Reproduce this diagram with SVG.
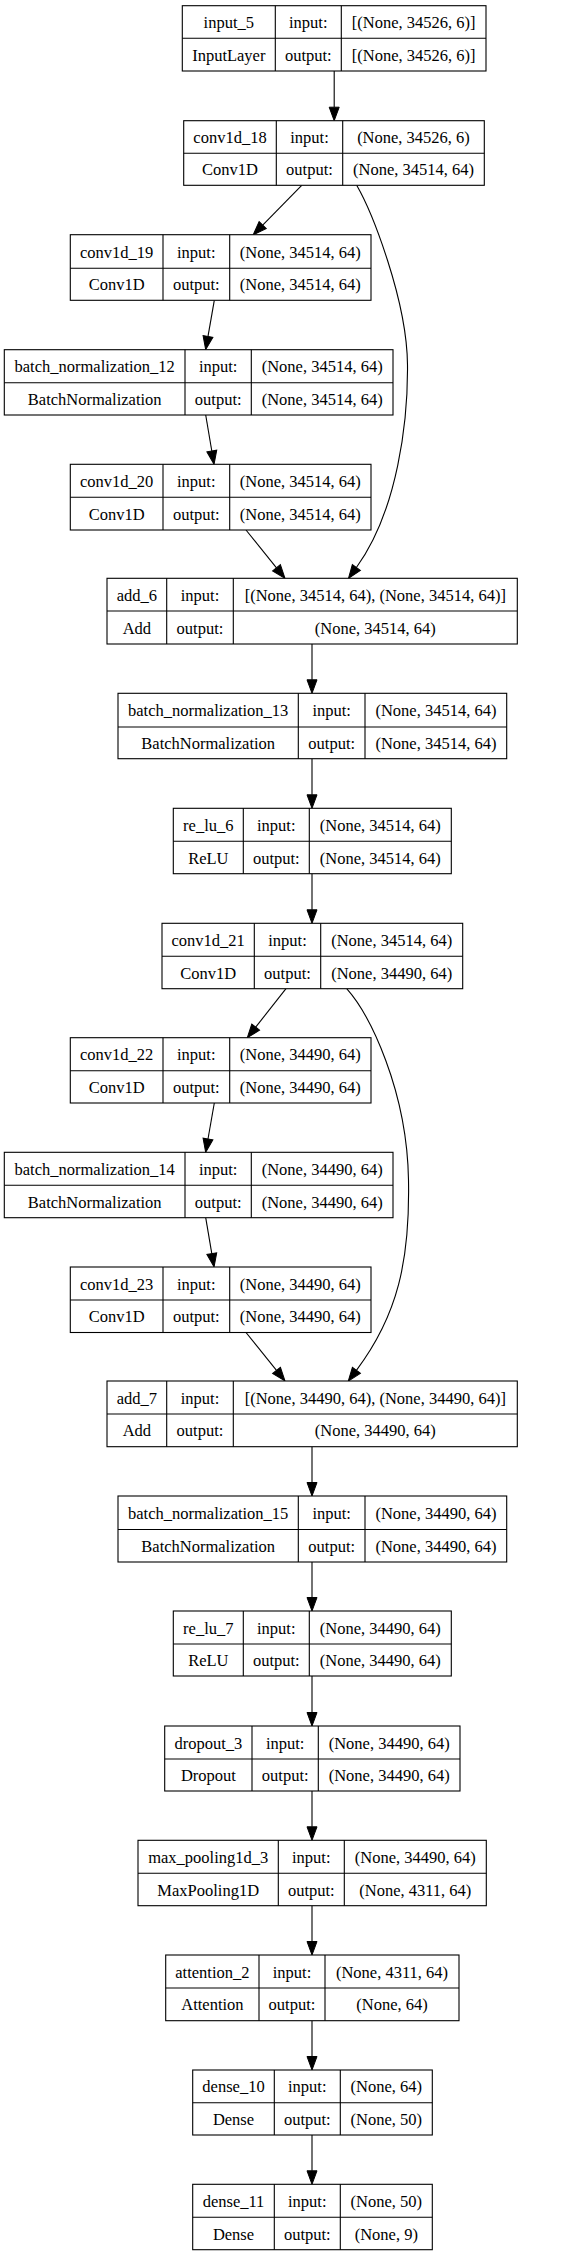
<svg xmlns="http://www.w3.org/2000/svg" width="572" height="2256" viewBox="0 0 572 2256">
<style>
  .box { fill: #fff; stroke: #000; stroke-width: 1.1; }
  .ln { stroke: #000; stroke-width: 1.1; fill: none; }
  text { font-family: "Liberation Serif", "Times New Roman", serif; font-size: 16.5px; text-anchor: middle; fill: #000; }
  .edge { stroke: #000; stroke-width: 1.1; fill: none; marker-end: url(#arr); }
</style>
<defs>
  <marker id="arr" markerUnits="userSpaceOnUse" markerWidth="14" markerHeight="10" refX="0" refY="5" orient="auto" overflow="visible">
    <path d="M0,0 L13.5,5 L0,10 z" fill="#000" stroke="#000" stroke-width="1"/>
  </marker>
</defs>
<rect width="572" height="2256" fill="#fff"/>

<g id="connectors">
  <path class="edge" d="M334.2,71 L334.2,107.2"/>
  <path class="edge" d="M301.7,185.3 L262.7,225.1"/>
  <path class="edge" d="M214.3,300.3 L208.0,336.4"/>
  <path class="edge" d="M205.7,415 L211.8,451.0"/>
  <path class="edge" d="M246,530 L276.5,567.8"/>
  <path class="edge" d="M356.7,185.3 C372,212 407,300 407.5,365 C408,420 398,510 356.4,567.5"/>
  <path class="edge" d="M312,644 L312,679.8"/>
  <path class="edge" d="M312,758.7 L312,794.8"/>
  <path class="edge" d="M312,873.7 L312,909.8"/>
  <path class="edge" d="M286,988.7 L255.7,1027.1"/>
  <path class="edge" d="M214.3,1103 L208.0,1139.0"/>
  <path class="edge" d="M205.7,1217.7 L211.8,1253.6"/>
  <path class="edge" d="M246,1332.5 L276.5,1370.4"/>
  <path class="edge" d="M346.7,988.7 C370,1015 407,1090 408.5,1180 C410,1260 398,1315 356.4,1370.3"/>
  <path class="edge" d="M312,1446.7 L312,1482.5"/>
  <path class="edge" d="M312,1562 L312,1597.5"/>
  <path class="edge" d="M312,1676 L312,1712.5"/>
  <path class="edge" d="M312,1791 L312,1826.8"/>
  <path class="edge" d="M312,1905.7 L312,1941.5"/>
  <path class="edge" d="M312,2020.7 L312,2056.5"/>
  <path class="edge" d="M312,2135 L312,2170.8"/>
</g>

<g id="input_5">
  <rect class="box" x="182.3" y="5.7" width="303.7" height="65.3"/>
  <path class="ln" d="M182.3,38.3 H486 M275.3,5.7 V71 M341.3,5.7 V71"/>
  <text x="228.8" y="28">input_5</text><text x="308.3" y="28">input:</text><text x="413.7" y="28">[(None, 34526, 6)]</text>
  <text x="228.8" y="60.7">InputLayer</text><text x="308.3" y="60.7">output:</text><text x="413.7" y="60.7">[(None, 34526, 6)]</text>
</g>

<g id="conv1d_18">
  <rect class="box" x="183.7" y="120.7" width="300.6" height="64.6"/>
  <path class="ln" d="M183.7,153.3 H484.3 M276.3,120.7 V185.3 M342.7,120.7 V185.3"/>
  <text x="230" y="143">conv1d_18</text><text x="309.5" y="143">input:</text><text x="413.5" y="143">(None, 34526, 6)</text>
  <text x="230" y="175.3">Conv1D</text><text x="309.5" y="175.3">output:</text><text x="413.5" y="175.3">(None, 34514, 64)</text>
</g>

<g id="conv1d_19">
  <rect class="box" x="70.3" y="234.7" width="300.7" height="65.6"/>
  <path class="ln" d="M70.3,268.3 H371 M163,234.7 V300.3 M229.7,234.7 V300.3"/>
  <text x="116.7" y="257.5">conv1d_19</text><text x="196.3" y="257.5">input:</text><text x="300.3" y="257.5">(None, 34514, 64)</text>
  <text x="116.7" y="290.3">Conv1D</text><text x="196.3" y="290.3">output:</text><text x="300.3" y="290.3">(None, 34514, 64)</text>
</g>

<g id="batch_normalization_12">
  <rect class="box" x="4.3" y="349.7" width="388.7" height="65.3"/>
  <path class="ln" d="M4.3,382.7 H393 M185,349.7 V415 M251.3,349.7 V415"/>
  <text x="94.7" y="372.2">batch_normalization_12</text><text x="218.2" y="372.2">input:</text><text x="322.2" y="372.2">(None, 34514, 64)</text>
  <text x="94.7" y="404.9">BatchNormalization</text><text x="218.2" y="404.9">output:</text><text x="322.2" y="404.9">(None, 34514, 64)</text>
</g>

<g id="conv1d_20">
  <rect class="box" x="70.3" y="464.3" width="300.7" height="65.7"/>
  <path class="ln" d="M70.3,497.3 H371 M163,464.3 V530 M229.7,464.3 V530"/>
  <text x="116.7" y="486.8">conv1d_20</text><text x="196.3" y="486.8">input:</text><text x="300.3" y="486.8">(None, 34514, 64)</text>
  <text x="116.7" y="519.7">Conv1D</text><text x="196.3" y="519.7">output:</text><text x="300.3" y="519.7">(None, 34514, 64)</text>
</g>

<g id="add_6">
  <rect class="box" x="107" y="578.3" width="410.3" height="65.7"/>
  <path class="ln" d="M107,611 H517.3 M166.7,578.3 V644 M233.3,578.3 V644"/>
  <text x="136.9" y="600.7">add_6</text><text x="200" y="600.7">input:</text><text x="375.3" y="600.7">[(None, 34514, 64), (None, 34514, 64)]</text>
  <text x="136.9" y="633.5">Add</text><text x="200" y="633.5">output:</text><text x="375.3" y="633.5">(None, 34514, 64)</text>
</g>

<g id="batch_normalization_13">
  <rect class="box" x="118" y="693.3" width="388.7" height="65.4"/>
  <path class="ln" d="M118,727 H506.7 M298.3,693.3 V758.7 M365,693.3 V758.7"/>
  <text x="208.2" y="716.2">batch_normalization_13</text><text x="331.7" y="716.2">input:</text><text x="435.9" y="716.2">(None, 34514, 64)</text>
  <text x="208.2" y="748.9">BatchNormalization</text><text x="331.7" y="748.9">output:</text><text x="435.9" y="748.9">(None, 34514, 64)</text>
</g>

<g id="re_lu_6">
  <rect class="box" x="173.3" y="808.3" width="278" height="65.4"/>
  <path class="ln" d="M173.3,841.3 H451.3 M243.3,808.3 V873.7 M309.3,808.3 V873.7"/>
  <text x="208.3" y="830.8">re_lu_6</text><text x="276.3" y="830.8">input:</text><text x="380.3" y="830.8">(None, 34514, 64)</text>
  <text x="208.3" y="863.5">ReLU</text><text x="276.3" y="863.5">output:</text><text x="380.3" y="863.5">(None, 34514, 64)</text>
</g>

<g id="conv1d_21">
  <rect class="box" x="162" y="923.3" width="300.7" height="65.4"/>
  <path class="ln" d="M162,956.3 H462.7 M254.3,923.3 V988.7 M320.7,923.3 V988.7"/>
  <text x="208.2" y="945.8">conv1d_21</text><text x="287.5" y="945.8">input:</text><text x="391.7" y="945.8">(None, 34514, 64)</text>
  <text x="208.2" y="978.5">Conv1D</text><text x="287.5" y="978.5">output:</text><text x="391.7" y="978.5">(None, 34490, 64)</text>
</g>

<g id="conv1d_22">
  <rect class="box" x="70.3" y="1037.7" width="300.7" height="65.3"/>
  <path class="ln" d="M70.3,1070.7 H371 M163,1037.7 V1103 M229.7,1037.7 V1103"/>
  <text x="116.7" y="1060.2">conv1d_22</text><text x="196.3" y="1060.2">input:</text><text x="300.3" y="1060.2">(None, 34490, 64)</text>
  <text x="116.7" y="1092.9">Conv1D</text><text x="196.3" y="1092.9">output:</text><text x="300.3" y="1092.9">(None, 34490, 64)</text>
</g>

<g id="batch_normalization_14">
  <rect class="box" x="4.3" y="1152.3" width="388.7" height="65.4"/>
  <path class="ln" d="M4.3,1185.3 H393 M185,1152.3 V1217.7 M251.3,1152.3 V1217.7"/>
  <text x="94.7" y="1174.8">batch_normalization_14</text><text x="218.2" y="1174.8">input:</text><text x="322.2" y="1174.8">(None, 34490, 64)</text>
  <text x="94.7" y="1207.5">BatchNormalization</text><text x="218.2" y="1207.5">output:</text><text x="322.2" y="1207.5">(None, 34490, 64)</text>
</g>

<g id="conv1d_23">
  <rect class="box" x="70.3" y="1267" width="300.7" height="65.5"/>
  <path class="ln" d="M70.3,1300 H371 M163,1267 V1332.5 M229.7,1267 V1332.5"/>
  <text x="116.7" y="1289.5">conv1d_23</text><text x="196.3" y="1289.5">input:</text><text x="300.3" y="1289.5">(None, 34490, 64)</text>
  <text x="116.7" y="1322.3">Conv1D</text><text x="196.3" y="1322.3">output:</text><text x="300.3" y="1322.3">(None, 34490, 64)</text>
</g>

<g id="add_7">
  <rect class="box" x="107" y="1381" width="410.3" height="65.7"/>
  <path class="ln" d="M107,1414 H517.3 M166.7,1381 V1446.7 M233.3,1381 V1446.7"/>
  <text x="136.9" y="1403.5">add_7</text><text x="200" y="1403.5">input:</text><text x="375.3" y="1403.5">[(None, 34490, 64), (None, 34490, 64)]</text>
  <text x="136.9" y="1436.4">Add</text><text x="200" y="1436.4">output:</text><text x="375.3" y="1436.4">(None, 34490, 64)</text>
</g>

<g id="batch_normalization_15">
  <rect class="box" x="118" y="1496" width="388.7" height="66"/>
  <path class="ln" d="M118,1529.5 H506.7 M298.3,1496 V1562 M365,1496 V1562"/>
  <text x="208.2" y="1518.7">batch_normalization_15</text><text x="331.7" y="1518.7">input:</text><text x="435.9" y="1518.7">(None, 34490, 64)</text>
  <text x="208.2" y="1551.7">BatchNormalization</text><text x="331.7" y="1551.7">output:</text><text x="435.9" y="1551.7">(None, 34490, 64)</text>
</g>

<g id="re_lu_7">
  <rect class="box" x="173.3" y="1611" width="278" height="65"/>
  <path class="ln" d="M173.3,1644 H451.3 M243.3,1611 V1676 M309.3,1611 V1676"/>
  <text x="208.3" y="1633.5">re_lu_7</text><text x="276.3" y="1633.5">input:</text><text x="380.3" y="1633.5">(None, 34490, 64)</text>
  <text x="208.3" y="1666">ReLU</text><text x="276.3" y="1666">output:</text><text x="380.3" y="1666">(None, 34490, 64)</text>
</g>

<g id="dropout_3">
  <rect class="box" x="164.7" y="1726" width="295.3" height="65"/>
  <path class="ln" d="M164.7,1759 H460 M252,1726 V1791 M318.3,1726 V1791"/>
  <text x="208.4" y="1748.5">dropout_3</text><text x="285.2" y="1748.5">input:</text><text x="389.2" y="1748.5">(None, 34490, 64)</text>
  <text x="208.4" y="1781">Dropout</text><text x="285.2" y="1781">output:</text><text x="389.2" y="1781">(None, 34490, 64)</text>
</g>

<g id="max_pooling1d_3">
  <rect class="box" x="138" y="1840.3" width="348.3" height="65.4"/>
  <path class="ln" d="M138,1873.3 H486.3 M278.3,1840.3 V1905.7 M344.3,1840.3 V1905.7"/>
  <text x="208.2" y="1862.8">max_pooling1d_3</text><text x="311.3" y="1862.8">input:</text><text x="415.3" y="1862.8">(None, 34490, 64)</text>
  <text x="208.2" y="1895.5">MaxPooling1D</text><text x="311.3" y="1895.5">output:</text><text x="415.3" y="1895.5">(None, 4311, 64)</text>
</g>

<g id="attention_2">
  <rect class="box" x="165.7" y="1955" width="293.3" height="65.7"/>
  <path class="ln" d="M165.7,1988 H459 M259,1955 V2020.7 M325,1955 V2020.7"/>
  <text x="212.4" y="1977.5">attention_2</text><text x="292" y="1977.5">input:</text><text x="392" y="1977.5">(None, 4311, 64)</text>
  <text x="212.4" y="2010.4">Attention</text><text x="292" y="2010.4">output:</text><text x="392" y="2010.4">(None, 64)</text>
</g>

<g id="dense_10">
  <rect class="box" x="192.7" y="2070" width="239.6" height="65"/>
  <path class="ln" d="M192.7,2102.7 H432.3 M274.3,2070 V2135 M340.3,2070 V2135"/>
  <text x="233.5" y="2092.4">dense_10</text><text x="307.3" y="2092.4">input:</text><text x="386.3" y="2092.4">(None, 64)</text>
  <text x="233.5" y="2124.9">Dense</text><text x="307.3" y="2124.9">output:</text><text x="386.3" y="2124.9">(None, 50)</text>
</g>

<g id="dense_11">
  <rect class="box" x="192.7" y="2184.3" width="239.6" height="65.4"/>
  <path class="ln" d="M192.7,2217.3 H432.3 M274.3,2184.3 V2249.7 M340.3,2184.3 V2249.7"/>
  <text x="233.5" y="2206.8">dense_11</text><text x="307.3" y="2206.8">input:</text><text x="386.3" y="2206.8">(None, 50)</text>
  <text x="233.5" y="2239.5">Dense</text><text x="307.3" y="2239.5">output:</text><text x="386.3" y="2239.5">(None, 9)</text>
</g>
</svg>
